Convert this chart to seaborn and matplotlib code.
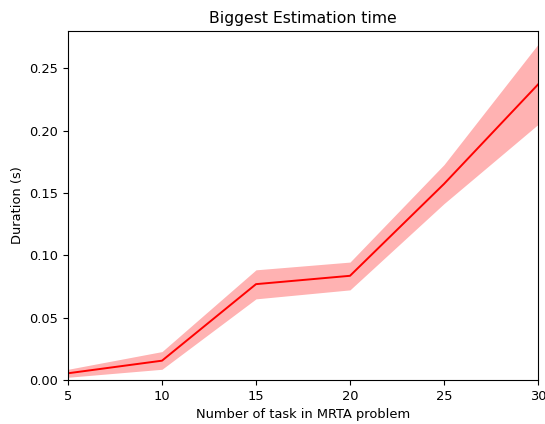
import matplotlib
matplotlib.use("Agg")
import matplotlib.pyplot as plt
import seaborn as sns
import pandas as pd

tasks = [5, 10, 15, 20, 25, 30]
mean_duration = [0.0054, 0.0155, 0.0769, 0.0836, 0.1573, 0.2371]
lower_duration = [0.0022, 0.0086, 0.0651, 0.0723, 0.1415, 0.2050]
upper_duration = [0.0086, 0.0228, 0.0884, 0.0946, 0.1728, 0.2693]

df = pd.DataFrame({"tasks": tasks, "mean": mean_duration,
                   "lower": lower_duration, "upper": upper_duration})

plt.rcParams["font.size"] = 9.4

fig = plt.figure(figsize=(5.45, 4.24), dpi=100)
ax = fig.add_axes([68/545, 1 - 380/424, (538-68)/545, (380-31)/424])
ax.fill_between(df["tasks"], df["lower"], df["upper"], color="red", alpha=0.3, linewidth=0)
sns.lineplot(data=df, x="tasks", y="mean", color="red", ax=ax, linewidth=1.4)
ax.set_xlim(5, 30)
ax.set_ylim(0, 0.28)
ax.set_xticks([5, 10, 15, 20, 25, 30])
ax.set_yticks([0.0, 0.05, 0.10, 0.15, 0.20, 0.25])
ax.set_yticklabels(["0.00", "0.05", "0.10", "0.15", "0.20", "0.25"])
ax.set_xlabel("Number of task in MRTA problem")
ax.set_ylabel("Duration (s)")
ax.set_title("Biggest Estimation time")
fig.savefig("out.png", dpi=100)
